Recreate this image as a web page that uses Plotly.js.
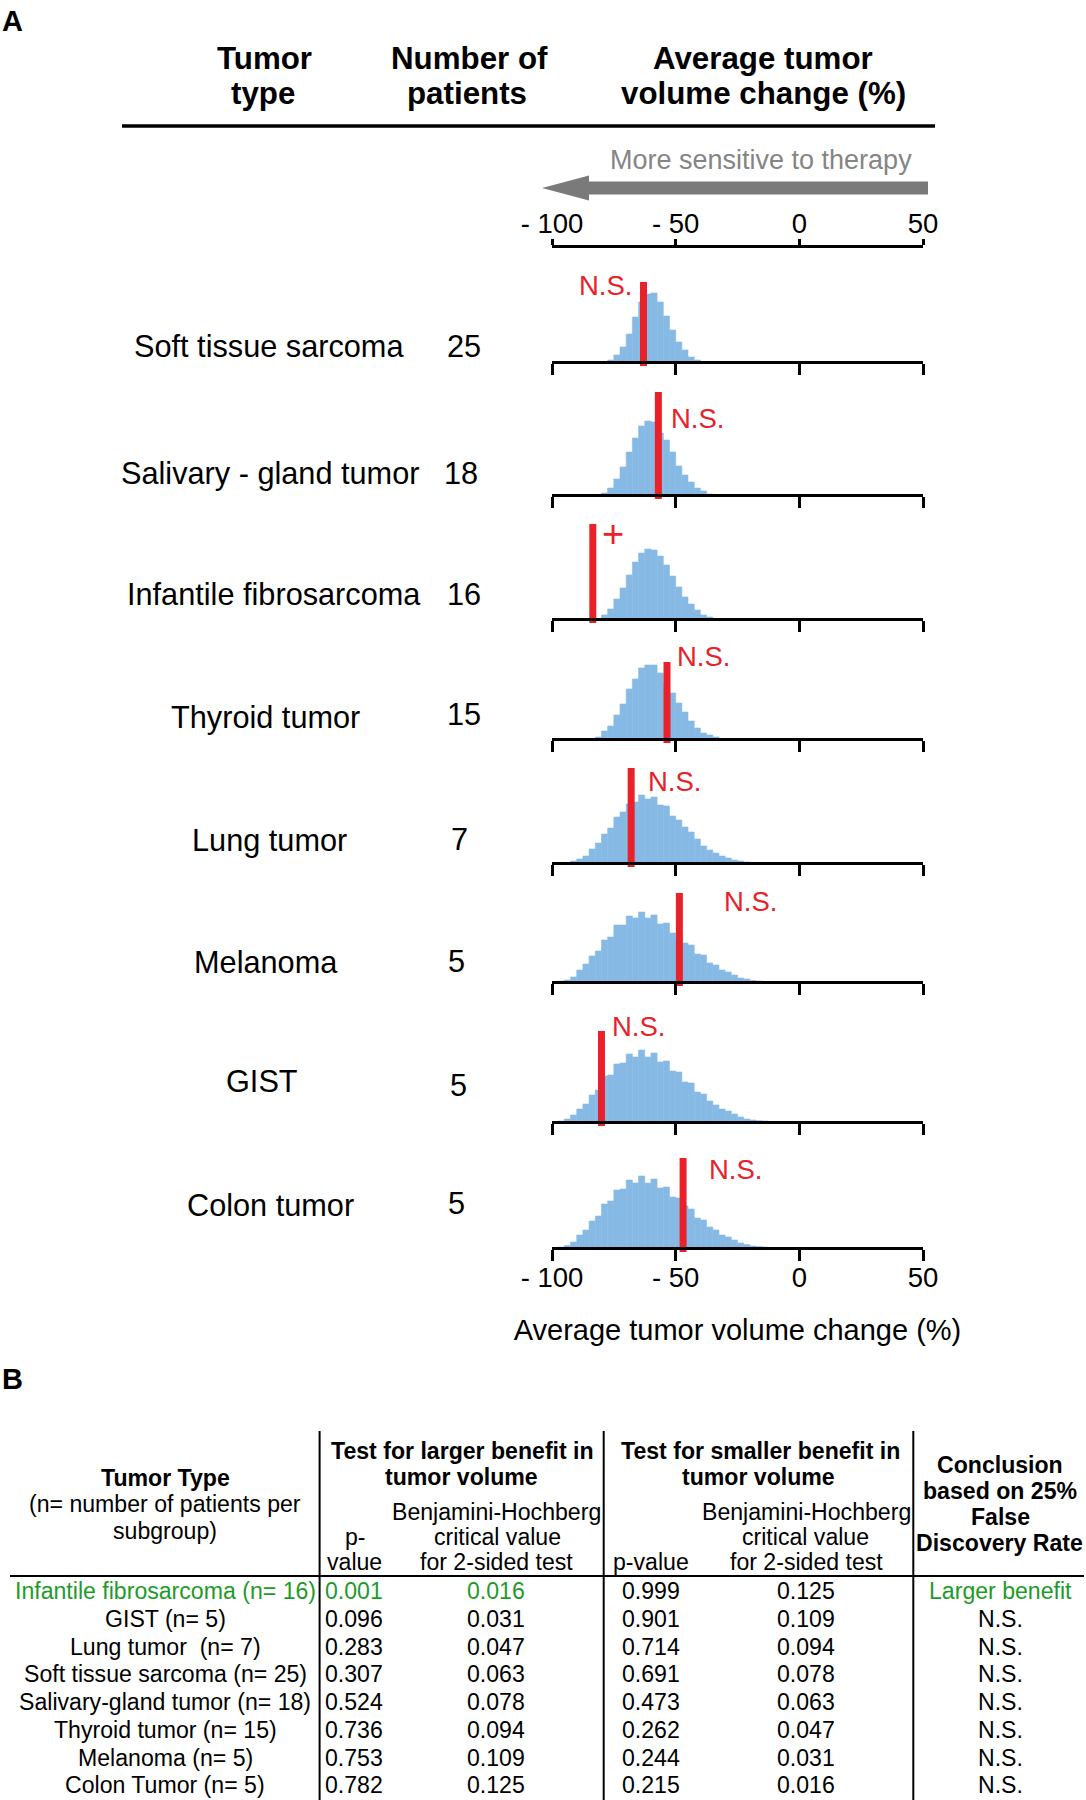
<!DOCTYPE html>
<html><head><meta charset="utf-8">
<script src="https://cdn.plot.ly/plotly-3.0.1.min.js"></script>
<style>html,body{margin:0;padding:0;background:#fff}#chart{width:1086px;height:1800px}</style>
</head><body><div id="chart"></div>
<script>
// ---------------- DATA ----------------
const tumorTypes = ["Soft tissue sarcoma","Salivary - gland tumor","Infantile fibrosarcoma","Thyroid tumor","Lung tumor","Melanoma","GIST","Colon tumor"];
const patientCounts = [25,18,16,15,7,5,5,5];
const observedChange = [-63,-57,-83.5,-53.5,-68,-48.5,-80,-47];
const markLabels = ["N.S.","N.S.","+","N.S.","N.S.","N.S.","N.S.","N.S."];
const binWidth = 2.5;
const binStart = [-77.5,-80,-80,-82.5,-92.5,-97.5,-97.5,-97.5];
const histSoftTissue = [2,7,15,28,45,60,68,69,60,46,32,20,12,5,2];
const histSalivary = [2,7,16,28,43,57,69,74,73,62,55,43,29,20,13,7,4,1];
const histInfantile = [4,10,20,31,44,57,66,70,69,63,54,43,32,22,15,9,4,2];
const histThyroid = [2,8,13,24,35,50,60,71,74,74,66,56,46,36,27,18,11,6,4,2];
const histLung = [2,4,7,14,20,29,35,46,51,59,61,68,64,66,58,57,47,43,36,31,24,17,13,10,7,5,3,2,1,0.5];
const histMelanoma = [1,2,5,12,18,26,31,42,45,57,57,66,64,70,64,67,58,59,49,43,39,37,28,27,19,17,12,10,7,4,3,1.5,1,0.5];
const histGIST = [1,3,7,13,18,27,32,46,47,58,59,68,65,72,65,69,60,61,51,50,40,39,30,28,21,17,13,11,8,5,3,2,1.3,1,0.5];
const histColon = [1,2.5,6,13,18,27,32,44,47,58,59,68,65,72,65,69,60,61,51,50,42,39,30,28,21,18,13,11,8,5,3.5,2,1.5,1,0.5];
const histograms = [histSoftTissue,histSalivary,histInfantile,histThyroid,histLung,histMelanoma,histGIST,histColon];
const tickVals = [-100,-50,0,50];
const tickLabels = ["- 100","- 50","0","50"];

const tableTumor = ["Infantile fibrosarcoma (n= 16)","GIST (n= 5)","Lung tumor\u00a0 (n= 7)","Soft tissue sarcoma (n= 25)","Salivary-gland tumor (n= 18)","Thyroid tumor (n= 15)","Melanoma (n= 5)","Colon Tumor (n= 5)"];
const pLarger = ["0.001","0.096","0.283","0.307","0.524","0.736","0.753","0.782"];
const bhLarger = ["0.016","0.031","0.047","0.063","0.078","0.094","0.109","0.125"];
const pSmaller = ["0.999","0.901","0.714","0.691","0.473","0.262","0.244","0.215"];
const bhSmaller = ["0.125","0.109","0.094","0.078","0.063","0.047","0.031","0.016"];
const conclusion = ["Larger benefit","N.S.","N.S.","N.S.","N.S.","N.S.","N.S.","N.S."];
const significantRow = [true,false,false,false,false,false,false,false];

// ---------------- LAYOUT CONSTANTS ----------------
const W = 1086, H = 1800;
const FONT = "Liberation Sans, Arial, Helvetica, sans-serif";
const BLUE = "#86BAE5", RED = "#E8212A", GREEN = "#1E9A2A", GRAY = "#7A7A7A";
const px = x => x / W;
const py = y => 1 - y / H;
const X_LEFT = 552, X_RIGHT = 923;
const AX_Y = [362,495,619,739,863,982,1122,1248];
const LINE_TOP = [80,103,95,77,95,89,91,90];
const LABEL_POS = [[269,347],[270,473],[274,594],[265,717],[269,840],[266,962],[262,1081],[270,1205]];
const COUNT_POS = [[464,347],[461,473],[464,594],[464,715],[459,839],[456,961],[458,1085],[456,1203]];
const MARK_POS = [[605,285],[697,418],[613,534],[703,656],[674,782],[750,901],[638,1026],[735,1169]];
const TOP_AXIS_Y = 246;

const traces = [];
const layout = {
  width: W, height: H, autosize: false,
  margin: {l:0, r:0, t:0, b:0},
  paper_bgcolor: "#fff", plot_bgcolor: "rgba(0,0,0,0)",
  showlegend: false, bargap: 0,
  font: {family: FONT, color: "#000"},
  annotations: [], shapes: []
};

function axisCommon() {
  return {
    domain: [px(X_LEFT), px(X_RIGHT)], range: [-100, 50], anchor: "free",
    showline: true, linewidth: 3, linecolor: "#000",
    ticks: "outside", ticklen: 11, tickwidth: 3, tickcolor: "#000",
    tickmode: "array", tickvals: tickVals, ticktext: tickLabels,
    showgrid: false, zeroline: false, fixedrange: true,
    tickfont: {family: FONT, size: 27.5, color: "#000"}
  };
}

histograms.forEach((h, i) => {
  const k = i + 1;
  const xs = h.map((_, j) => binStart[i] + binWidth * (j + 0.5));
  traces.push({
    type: "bar", x: xs, y: h, width: binWidth,
    marker: {color: BLUE, line: {width: 0.6, color: BLUE}},
    xaxis: "x" + k, yaxis: "y" + k, hoverinfo: "skip"
  });
  traces.push({
    type: "scatter", mode: "lines",
    x: [observedChange[i], observedChange[i]], y: [-4, LINE_TOP[i]],
    line: {color: RED, width: 7}, xaxis: "x" + k, yaxis: "y" + k, hoverinfo: "skip"
  });
  const xa = axisCommon();
  xa.position = py(AX_Y[i]);
  xa.showticklabels = (i === histograms.length - 1);
  xa.ticklabelstandoff = -7;
  layout["xaxis" + (k === 1 ? "" : k)] = xa;
  layout["yaxis" + (k === 1 ? "" : k)] = {
    domain: [py(AX_Y[i] + 6), py(AX_Y[i] - 114)], range: [-6, 114],
    visible: false, fixedrange: true, anchor: "x" + k
  };
  layout.annotations.push({xref:"paper", yref:"paper", x: px(LABEL_POS[i][0]), y: py(LABEL_POS[i][1]),
    text: tumorTypes[i], showarrow:false, xanchor:"center", yanchor:"middle", font:{size:30.7}});
  layout.annotations.push({xref:"paper", yref:"paper", x: px(COUNT_POS[i][0]), y: py(COUNT_POS[i][1]),
    text: String(patientCounts[i]), showarrow:false, xanchor:"center", yanchor:"middle", font:{size:30.7}});
  layout.annotations.push({xref:"paper", yref:"paper", x: px(MARK_POS[i][0]), y: py(MARK_POS[i][1]),
    text: markLabels[i], showarrow:false, xanchor:"center", yanchor:"middle",
    font:{size: markLabels[i] === "+" ? 38 : 27.5, color: RED}});
});
layout.xaxis8.title = {text: "Average tumor volume change (%)", font: {size: 29}, standoff: 27};

// top axis
traces.push({type:"scatter", mode:"markers", x:[-100,50], y:[0,0], marker:{opacity:0}, xaxis:"x9", yaxis:"y9", hoverinfo:"skip"});
const topAx = axisCommon();
topAx.side = "top";
topAx.position = py(TOP_AXIS_Y);
topAx.ticklen = 6;
topAx.showticklabels = true;
topAx.ticklabelstandoff = -5;
layout.xaxis9 = topAx;
layout.yaxis9 = {domain:[py(TOP_AXIS_Y), py(TOP_AXIS_Y - 5)], visible:false, fixedrange:true, anchor:"x9"};

// header
const hdr = (t, x, y, size, extra) => Object.assign({xref:"paper", yref:"paper", x:px(x), y:py(y), text:t,
  showarrow:false, xanchor:"center", yanchor:"middle", font:{size:size}}, extra || {});
layout.annotations.push(hdr("<b>A</b>", 0, 21, 29, {xanchor:"left"}));
layout.annotations.push(hdr("<b>Tumor</b>", 264, 58, 31.3));
layout.annotations.push(hdr("<b>type</b>", 263, 94, 31.3));
layout.annotations.push(hdr("<b>Number of</b>", 469, 58, 31.3));
layout.annotations.push(hdr("<b>patients</b>", 467, 94, 31.3));
layout.annotations.push(hdr("<b>Average tumor</b>", 763, 58, 31.3));
layout.annotations.push(hdr("<b>volume change (%)</b>", 763, 94, 31.3));
layout.shapes.push({type:"line", xref:"paper", yref:"paper", x0:px(122), x1:px(935), y0:py(126), y1:py(126), line:{color:"#000", width:3.5}});
layout.annotations.push(hdr("More sensitive to therapy", 761, 160, 27, {font:{size:27, color:"#858585"}}));
(function(){
  const pts = [[542,188],[589,175.5],[589,181.5],[928,181.5],[928,194.5],[589,194.5],[589,200.5]];
  const d = "M " + pts.map(p => px(p[0]) + "," + py(p[1])).join(" L ") + " Z";
  layout.shapes.push({type:"path", xref:"paper", yref:"paper", path:d, fillcolor:GRAY, line:{width:0}});
})();

// ---------------- TABLE (B) ----------------
layout.annotations.push(hdr("<b>B</b>", 0, 1379, 29, {xanchor:"left"}));
const TS = 23.1;
const head = [
  ["<b>Tumor Type</b>",165,1478],["(n= number of patients per",165,1504],["subgroup)",165,1531],
  ["<b>Test for larger benefit in</b>",462,1451],["<b>tumor volume</b>",461,1477],
  ["Benjamini-Hochberg",496,1512],["critical value",497,1537],["for 2-sided test",496,1562],
  ["p-",355,1537],["value",354,1562],
  ["<b>Test for smaller benefit in</b>",760,1451],["<b>tumor volume</b>",758,1477],
  ["Benjamini-Hochberg",806,1512],["critical value",805,1537],["for 2-sided test",806,1562],
  ["p-value",651,1562],
  ["<b>Conclusion</b>",1000,1465],["<b>based on 25%</b>",1000,1491],["<b>False</b>",1000,1517],["<b>Discovery Rate</b>",999,1543]
];
head.forEach(h => layout.annotations.push(hdr(h[0], h[1], h[2], TS)));
const ROW_Y = [1591,1619,1647,1674,1702,1730,1758,1785];
const COL_X = [165,354,496,651,806,1000];
tableTumor.forEach((t, r) => {
  const c = significantRow[r] ? GREEN : "#000";
  const cells = [[tableTumor[r], c],[pLarger[r], c],[bhLarger[r], c],[pSmaller[r], "#000"],[bhSmaller[r], "#000"],[conclusion[r], c]];
  cells.forEach((cell, ci) => layout.annotations.push(hdr(cell[0], COL_X[ci], ROW_Y[r], TS, {font:{size:TS, color:cell[1]}})));
});
[319.6, 603.7, 913.3].forEach(x => layout.shapes.push({type:"line", xref:"paper", yref:"paper", x0:px(x), x1:px(x), y0:py(1431), y1:py(1800), line:{color:"#000", width:2}}));
layout.shapes.push({type:"line", xref:"paper", yref:"paper", x0:px(10), x1:px(1084), y0:py(1576), y1:py(1576), line:{color:"#000", width:2.2}});

Plotly.newPlot("chart", traces, layout, {staticPlot:true, displayModeBar:false});
</script></body></html>
